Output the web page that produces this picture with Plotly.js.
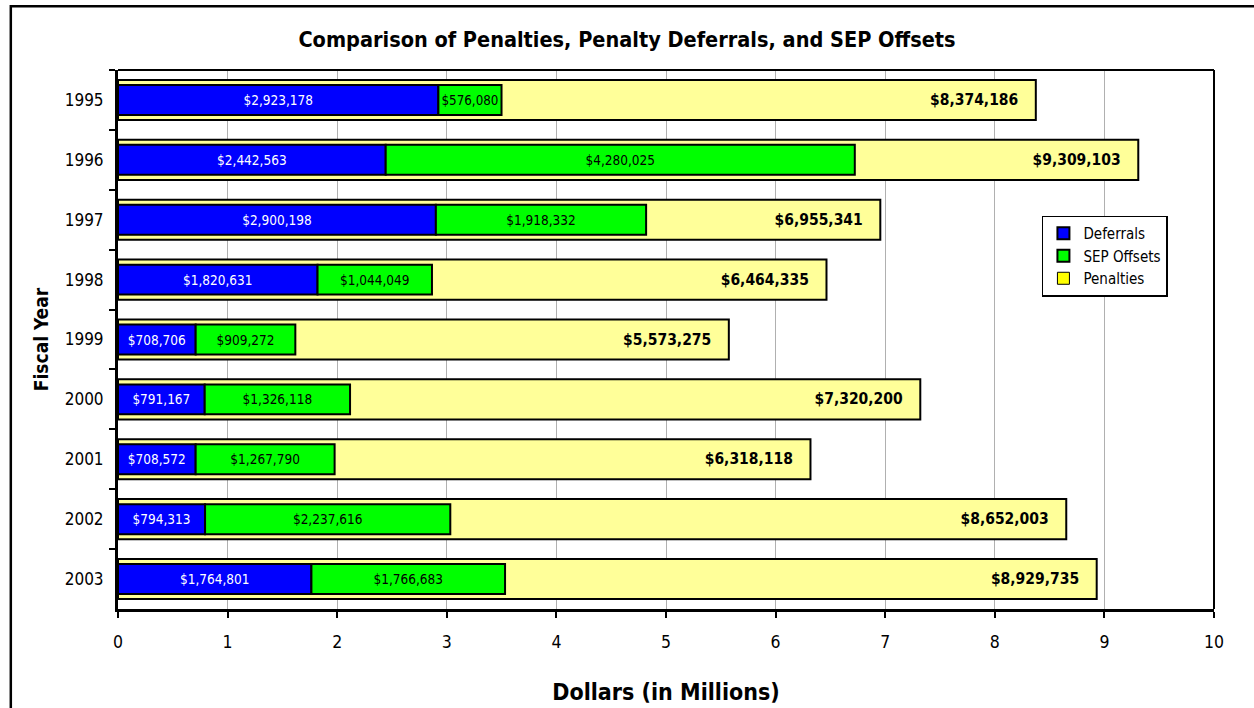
<!DOCTYPE html>
<html>
<head>
<meta charset="utf-8">
<script src="https://cdn.plot.ly/plotly-3.0.1.min.js"></script>
<style>
html,body{margin:0;padding:0;background:#fff;}
#chart{width:1254px;height:708px;}
</style>
</head>
<body>
<div id="chart"></div>
<script>
var years = ['1995','1996','1997','1998','1999','2000','2001','2002','2003'];
var deferrals = [2923178, 2442563, 2900198, 1820631, 708706, 791167, 708572, 794313, 1764801];
var sepOffsets = [576080, 4280025, 1918332, 1044049, 909272, 1326118, 1267790, 2237616, 1766683];
var penalties = [8374186, 9309103, 6955341, 6464335, 5573275, 7320200, 6318118, 8652003, 8929735];
var xTicks = [0,1,2,3,4,5,6,7,8,9,10];

var FONT = '"DejaVu Sans Condensed", "DejaVu Sans", sans-serif';
function M(a){ return a.map(function(v){ return v/1e6; }); }
function money(a){ return a.map(function(v){ return '$' + v.toLocaleString('en-US'); }); }

var traces = [
  {
    type:'bar', orientation:'h', name:'Penalties', y:years, x:M(penalties),
    width:0.67, marker:{color:'#FFFF99', line:{color:'#000', width:2}},
    text:money(penalties).map(function(s){ return s + '\u00a0\u00a0\u00a0'; }),
    textposition:'inside', insidetextanchor:'end', textangle:0,
    textfont:{family:FONT, size:15.5, color:'#000', weight:'bold'}, showlegend:false, hoverinfo:'none'
  },
  {
    type:'bar', orientation:'h', name:'Deferrals', y:years, x:M(deferrals),
    width:0.5, marker:{color:'#0000FF', line:{color:'#000', width:2}},
    text:money(deferrals), textposition:'inside', insidetextanchor:'middle', textangle:0,
    textfont:{family:FONT, size:13.5, color:'#fff'}, hoverinfo:'none'
  },
  {
    type:'bar', orientation:'h', name:'SEP Offsets', y:years, x:M(sepOffsets), base:M(deferrals),
    width:0.5, marker:{color:'#00FF00', line:{color:'#000', width:2}},
    text:money(sepOffsets), textposition:'inside', insidetextanchor:'middle', textangle:0,
    textfont:{family:FONT, size:13.5, color:'#000'}, hoverinfo:'none'
  },
  {
    type:'bar', orientation:'h', name:'Penalties', y:[years[0]], x:[null],
    marker:{color:'#FFFF00', line:{color:'#000', width:1}}, hoverinfo:'none'
  }
];

var layout = {
  width:1254, height:708,
  margin:{l:118, r:40, t:70, b:99},
  paper_bgcolor:'#fff', plot_bgcolor:'#fff',
  barmode:'overlay', uniformtext:{mode:false},
  font:{family:FONT, color:'#000'},
  title:{text:'<b>Comparison of Penalties, Penalty Deferrals, and SEP Offsets</b>',
         font:{family:FONT, size:21.5, color:'#000'}, x:0.5, xanchor:'center', y:0.944, yanchor:'middle'},
  xaxis:{
    range:[0,10], tickvals:xTicks, ticktext:xTicks.map(String),
    showgrid:true, gridcolor:'#b0b0b0', gridwidth:1,
    ticks:'outside', ticklen:6, tickwidth:2, tickcolor:'#000',
    showline:true, linecolor:'#000', linewidth:3, zeroline:false,
    tickfont:{family:FONT, size:17.5, color:'#000'}, ticklabelstandoff:9,
    title:{text:'<b>Dollars (in Millions)</b>', font:{family:FONT, size:23, color:'#000'}, standoff:33},
    fixedrange:true
  },
  yaxis:{
    type:'category', autorange:'reversed', tickson:'boundaries',
    ticks:'outside', ticklen:6, tickwidth:2, tickcolor:'#000',
    showline:true, linecolor:'#000', linewidth:3, showgrid:false,
    tickfont:{family:FONT, size:17, color:'#000'}, ticklabelstandoff:8,
    title:{text:'<b>Fiscal Year</b>', font:{family:FONT, size:19, color:'#000'}, standoff:12},
    fixedrange:true
  },
  legend:{
    x:0.843, y:0.73, xanchor:'left', yanchor:'top',
    bordercolor:'#000', borderwidth:1.5, bgcolor:'#fff',
    font:{family:FONT, size:15, color:'#000'},
    traceorder:'normal', itemwidth:30, tracegroupgap:0
  },
  shapes:[
    {type:'line', xref:'paper', yref:'paper', x0:0, x1:1, y0:1, y1:1, line:{color:'#000', width:2}},
    {type:'line', xref:'paper', yref:'paper', x0:1, x1:1, y0:0, y1:1, line:{color:'#000', width:2}},
    {type:'rect', xref:'paper', yref:'paper', x0:-0.0978, x1:1.1, y0:-0.3, y1:1.1185, line:{color:'#000', width:2.5}, fillcolor:'rgba(0,0,0,0)', layer:'below'}
  ]
};

Plotly.newPlot('chart', traces, layout, {displayModeBar:false, staticPlot:true});
</script>
</body>
</html>
